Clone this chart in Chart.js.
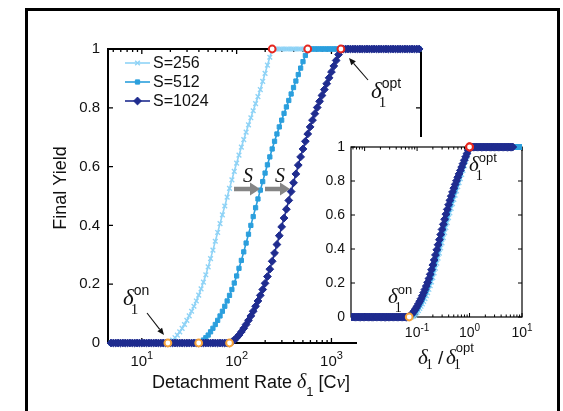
<!DOCTYPE html>
<html><head><meta charset="utf-8">
<script src="https://cdn.jsdelivr.net/npm/chart.js@4"></script>
<style>
html,body{margin:0;padding:0;background:#fff;width:563px;height:411px;overflow:hidden;}
#frame{position:absolute;left:25px;top:8px;width:529px;height:420px;border:3px solid #000;}
#main{position:absolute;left:0;top:0;}
#inset{position:absolute;left:300px;top:130px;}
</style></head><body>
<div id="frame"></div>
<canvas id="main" width="563" height="411"></canvas>
<canvas id="inset" width="255" height="270"></canvas>
<script>
// ---------------- data ----------------
const delta = [4.732, 5.012, 5.309, 5.623, 5.957, 6.310, 6.683, 7.079, 7.499, 7.943, 8.414, 8.913, 9.441,
  10, 10.59, 11.22, 11.89, 12.59, 13.34, 14.13, 14.96, 15.85, 16.79, 17.78, 18.84, 19.95, 21.13, 22.39, 23.71,
  25.12, 26.61, 28.18, 29.85, 31.62, 33.50, 35.48, 37.58, 39.81, 42.17, 44.67, 47.32, 50.12, 53.09, 56.23,
  59.57, 63.10, 66.83, 70.79, 74.99, 79.43, 84.14, 89.13, 94.41,
  100, 105.9, 112.2, 118.9, 125.9, 133.4, 141.3, 149.6, 158.5, 167.9, 177.8, 188.4, 199.5, 211.3, 223.9,
  237.1, 251.2, 266.1, 281.8, 298.5, 316.2, 335.0, 354.8, 375.8, 398.1, 421.7, 446.7, 473.2, 501.2, 530.9,
  562.3, 595.7, 631.0, 668.3, 707.9, 749.9, 794.3, 841.4, 891.3, 944.1,
  1000, 1059, 1122, 1189, 1259, 1334, 1413, 1496, 1585, 1679, 1778, 1884, 1995, 2113, 2239, 2371, 2512,
  2661, 2818, 2985, 3162, 3350, 3548, 3758, 3981, 4217, 4467, 4732, 5012, 5309, 5623, 5957, 6310, 6683,
  7079, 7499, 7943, 8414];

const yieldS256 = [0,0,0,0,0,0,0,0,0,0,0,0,0,0,0,0,0,0,0,0,0,0,0,0,
  0.000, 0.004, 0.010, 0.018, 0.027, 0.038, 0.050, 0.063, 0.077, 0.092, 0.108, 0.125, 0.143, 0.163, 0.184,
  0.207, 0.232, 0.259, 0.287, 0.316, 0.346, 0.376, 0.406, 0.436, 0.466, 0.496, 0.526, 0.555, 0.584, 0.612,
  0.639, 0.666, 0.692, 0.717, 0.742, 0.766, 0.790, 0.814, 0.838, 0.862, 0.890, 0.917, 0.945, 0.972, 1.000,
  1,1,1,1,1,1,1,1,1,1,1,1,1,1,1,1,1,1,1,1,1,1,1,1,1,1,1,1,1,1,1,1,1,1,1,1,1,1,1,1,1,1,1,1,1,1,1,1,1,1,
  1,1,1,1,1,1,1,1,1,1,1,1];

const yieldS512 = [0,0,0,0,0,0,0,0,0,0,0,0,0,0,0,0,0,0,0,0,0,0,0,0,0,0,0,0,0,0,0,0,0,0,0,0,0,
  0.000, 0.004, 0.010, 0.018, 0.027, 0.038, 0.050, 0.063, 0.077, 0.092, 0.108, 0.125, 0.143, 0.162, 0.182,
  0.204, 0.228, 0.254, 0.281, 0.310, 0.340, 0.370, 0.400, 0.430, 0.460, 0.490, 0.520, 0.549, 0.578, 0.606,
  0.633, 0.660, 0.686, 0.711, 0.735, 0.758, 0.781, 0.803, 0.825, 0.847, 0.869, 0.891, 0.913, 0.935, 0.957,
  0.978, 1.000,
  1,1,1,1,1,1,1,1,1,1,1,1,1,1,1,1,1,1,1,1,1,1,1,1,1,1,1,1,1,1,1,1,1,1,1,1,1,1,1,1,1,1,1,1,1,1,1];

const yieldS1024 = [0,0,0,0,0,0,0,0,0,0,0,0,0,0,0,0,0,0,0,0,0,0,0,0,0,0,0,0,0,0,0,0,0,0,0,0,0,0,0,0,
  0,0,0,0,0,0,0,0,0,0,
  0.000, 0.004, 0.010, 0.018, 0.027, 0.038, 0.050, 0.063, 0.077, 0.092, 0.108, 0.125, 0.143, 0.162, 0.182,
  0.203, 0.226, 0.251, 0.278, 0.306, 0.335, 0.365, 0.395, 0.425, 0.455, 0.485, 0.515, 0.545, 0.575, 0.605,
  0.633, 0.660, 0.686, 0.711, 0.735, 0.758, 0.780, 0.801, 0.822, 0.842, 0.862, 0.882, 0.902, 0.922, 0.942,
  0.961, 0.981, 1.000,
  1,1,1,1,1,1,1,1,1,1,1,1,1,1,1,1,1,1,1,1,1,1,1,1,1,1,1,1,1,1,1,1,1];

const seriesNames = ['S=256', 'S=512', 'S=1024'];
const onsetDelta = [18.84, 39.81, 84.14];   // δ1^on  (yield leaves 0)
const optDelta = [237.1, 562.3, 1259];      // δ1^opt (yield reaches 1)
const yTickStep = 0.2;
const mainXTicks = [10, 100, 1000];
const mainXExps = ['1', '2', '3'];
const insetXTicks = [0.1, 1, 10];
const insetXExps = ['-1', '0', '1'];

// ---------------- styles ----------------
const SANS = '"Liberation Sans", Arial, Helvetica, sans-serif';
const SERIF = '"Liberation Serif", "DejaVu Serif", "Times New Roman", serif';
const ySeries = [yieldS256, yieldS512, yieldS1024];
const styles = [
  {color: '#8fd3f6', point: 'crossRot', r: 3.3, pbw: 1.4, order: 4},
  {color: '#2b9fdd', point: 'rect', r: 3.0, pbw: 1, order: 3},
  {color: '#1f2c8f', point: 'rectRot', r: 3.9, pbw: 1, order: 2}
];
const ORANGE = '#f5a23a', RED = '#e5271f';

function seriesDS(i, norm, clip) {
  const s = styles[i];
  return {
    label: seriesNames[i],
    data: delta.map((d, k) => ({x: norm ? d / optDelta[i] : d, y: ySeries[i][k]})),
    borderColor: s.color, backgroundColor: s.color, borderWidth: 1.6,
    pointStyle: s.point, pointRadius: s.r, pointBorderWidth: s.pbw,
    pointBackgroundColor: s.color, pointBorderColor: s.color,
    tension: 0, order: s.order, clip: clip
  };
}
function markDS(points, color, order, clip) {
  return {
    data: points, showLine: false, pointStyle: 'circle', pointRadius: 3.4,
    pointBorderWidth: 2, pointBorderColor: color, pointBackgroundColor: '#fff',
    borderColor: color, backgroundColor: '#fff', order: order, clip: clip
  };
}

// ---------------- drawing helpers ----------------
function boxPlugin(cfg) {
  return {
    id: 'box' + cfg.name,
    beforeDraw(chart) {
      if (!cfg.white) return;
      const c = chart.ctx;
      c.save(); c.fillStyle = '#fff';
      c.fillRect(cfg.white[0], cfg.white[1], chart.width - cfg.white[0], chart.height - cfg.white[1]);
      c.restore();
    },
    beforeDatasetsDraw(chart) {
      const {ctx, chartArea: a, scales: {x, y}} = chart;
      ctx.save();
      ctx.strokeStyle = '#000'; ctx.lineWidth = cfg.lw;
      ctx.strokeRect(a.left, a.top, a.right - a.left, a.bottom - a.top);
      ctx.lineWidth = cfg.tlw;
      ctx.beginPath();
      for (let v = 0; v <= 1.0001; v += yTickStep) {
        const py = y.getPixelForValue(v);
        ctx.moveTo(a.left, py); ctx.lineTo(a.left + cfg.major, py);
        ctx.moveTo(a.right, py); ctx.lineTo(a.right - cfg.major, py);
      }
      const lo = Math.floor(Math.log10(x.min)), hi = Math.ceil(Math.log10(x.max));
      for (let e = lo; e <= hi; e++) for (let k = 1; k <= 9; k++) {
        const v = k * Math.pow(10, e);
        if (v < x.min || v > x.max) continue;
        const px = x.getPixelForValue(v);
        const L = k === 1 ? cfg.major : cfg.minor;
        ctx.moveTo(px, a.bottom); ctx.lineTo(px, a.bottom - L);
        ctx.moveTo(px, a.top); ctx.lineTo(px, a.top + L);
      }
      ctx.stroke(); ctx.restore();
    }
  };
}

function powLabels(chart, values, exps, baseY, bs, es, raise) {
  const {ctx, scales: {x}} = chart;
  ctx.save(); ctx.fillStyle = '#111'; ctx.textBaseline = 'alphabetic'; ctx.textAlign = 'left';
  values.forEach((v, i) => {
    const px = x.getPixelForValue(v);
    ctx.font = bs + 'px ' + SANS; const wb = ctx.measureText('10').width;
    ctx.font = es + 'px ' + SANS; const we = ctx.measureText(exps[i]).width;
    const x0 = px - (wb + we) / 2;
    ctx.font = bs + 'px ' + SANS; ctx.fillText('10', x0, baseY);
    ctx.font = es + 'px ' + SANS; ctx.fillText(exps[i], x0 + wb, baseY - raise);
  });
  ctx.restore();
}

function deltaSym(ctx, x, y, sup, o) {
  ctx.save(); ctx.fillStyle = '#111'; ctx.textBaseline = 'alphabetic'; ctx.textAlign = 'left';
  ctx.font = 'italic ' + o.sz + 'px ' + SERIF;
  ctx.fillText('δ', x, y);
  const w = ctx.measureText('δ').width;
  ctx.font = o.sub + 'px ' + SERIF;
  ctx.fillText('1', x + w + o.subDx, y + o.subDy);
  if (sup) {
    ctx.font = o.sup + 'px ' + SANS;
    ctx.fillText(sup, x + w + o.supDx, y + o.supDy);
  }
  ctx.restore();
  return w;
}

function thinArrow(ctx, x1, y1, x2, y2) {
  const ang = Math.atan2(y2 - y1, x2 - x1), hl = 7, hw = 3;
  ctx.save(); ctx.strokeStyle = '#111'; ctx.fillStyle = '#111'; ctx.lineWidth = 1.1;
  ctx.beginPath(); ctx.moveTo(x1, y1);
  ctx.lineTo(x2 - hl * Math.cos(ang), y2 - hl * Math.sin(ang)); ctx.stroke();
  ctx.beginPath(); ctx.moveTo(x2, y2);
  ctx.lineTo(x2 - hl * Math.cos(ang) + hw * Math.sin(ang), y2 - hl * Math.sin(ang) - hw * Math.cos(ang));
  ctx.lineTo(x2 - hl * Math.cos(ang) - hw * Math.sin(ang), y2 - hl * Math.sin(ang) + hw * Math.cos(ang));
  ctx.closePath(); ctx.fill(); ctx.restore();
}

function fatArrow(ctx, x1, x2, y) {
  const hl = 10, hh = 6.5, sh = 2.3;
  ctx.save(); ctx.fillStyle = '#858585';
  ctx.beginPath();
  ctx.moveTo(x1, y - sh); ctx.lineTo(x2 - hl, y - sh); ctx.lineTo(x2 - hl, y - hh);
  ctx.lineTo(x2, y); ctx.lineTo(x2 - hl, y + hh); ctx.lineTo(x2 - hl, y + sh); ctx.lineTo(x1, y + sh);
  ctx.closePath(); ctx.fill(); ctx.restore();
}

const mainAnnot = {
  id: 'mainAnnot',
  afterDatasetsDraw(chart) {
    const ctx = chart.ctx;
    powLabels(chart, mainXTicks, mainXExps, 366, 15, 11, 7);
    // legend
    ctx.save();
    [63, 82, 101].forEach((ry, i) => {
      const s = styles[i];
      ctx.strokeStyle = s.color; ctx.fillStyle = s.color; ctx.lineWidth = 1.6;
      ctx.beginPath(); ctx.moveTo(125, ry); ctx.lineTo(150, ry); ctx.stroke();
      ctx.lineWidth = s.pbw;
      Chart.helpers.drawPoint(ctx, {pointStyle: s.point, radius: s.r, rotation: 0, borderWidth: s.pbw}, 137.5, ry);
      ctx.fillStyle = '#111'; ctx.font = '16px ' + SANS; ctx.textBaseline = 'middle'; ctx.textAlign = 'left';
      ctx.fillText(seriesNames[i], 153, ry + 1);
    });
    // axis titles
    ctx.fillStyle = '#111'; ctx.textBaseline = 'alphabetic';
    ctx.save(); ctx.translate(66, 188); ctx.rotate(-Math.PI / 2);
    ctx.font = '18px ' + SANS; ctx.textAlign = 'center'; ctx.fillText('Final Yield', 0, 0);
    ctx.restore();
    // x title pieces
    const pieces = [
      {t: 'Detachment Rate ', f: '18px ' + SANS, dy: 0},
      {t: 'δ', f: 'italic 20px ' + SERIF, dy: 0},
      {t: '1', f: '13px ' + SANS, dy: 8},
      {t: ' [C', f: '18px ' + SANS, dy: 0},
      {t: 'ν', f: 'italic 19px ' + SERIF, dy: 0},
      {t: ']', f: '18px ' + SANS, dy: 0}
    ];
    let tw = 0;
    pieces.forEach(p => { ctx.font = p.f; p.w = ctx.measureText(p.t).width; tw += p.w; });
    let xx = 251 - tw / 2;
    ctx.textAlign = 'left';
    pieces.forEach(p => { ctx.font = p.f; ctx.fillText(p.t, xx, 388 + p.dy); xx += p.w; });
    ctx.restore();
    // δ1 annotations
    const o = {sz: 23, sub: 15, subDx: -3, subDy: 9, sup: 14, supDx: 0, supDy: -10};
    deltaSym(ctx, 123, 305, 'on', o);
    thinArrow(ctx, 147, 313, 164, 335);
    deltaSym(ctx, 371, 98, 'opt', o);
    thinArrow(ctx, 368, 80, 349, 58);
    // S shift arrows
    fatArrow(ctx, 234, 260, 189);
    fatArrow(ctx, 265, 290, 189);
    ctx.save(); ctx.fillStyle = '#111'; ctx.font = 'italic 20px ' + SERIF;
    ctx.textAlign = 'center'; ctx.textBaseline = 'alphabetic';
    ctx.fillText('S', 248, 182); ctx.fillText('S', 280, 182);
    ctx.restore();
  }
};

const insetAnnot = {
  id: 'insetAnnot',
  afterDatasetsDraw(chart) {
    const ctx = chart.ctx;
    // inset canvas origin = page (300,130)
    powLabels(chart, insetXTicks, insetXExps, 337 - 130, 14, 10, 6);
    const o = {sz: 21, sub: 14, subDx: -3, subDy: 9, sup: 13, supDx: 0, supDy: -9};
    deltaSym(ctx, 469 - 300, 171 - 130, 'opt', o);
    deltaSym(ctx, 388 - 300, 303 - 130, 'on', o);
    // x title δ1 / δ1^opt
    const t = {sz: 21, sub: 14, subDx: -2, subDy: 5, sup: 13, supDx: 0, supDy: -12};
    deltaSym(ctx, 418 - 300, 364 - 130, null, t);
    ctx.save(); ctx.fillStyle = '#111'; ctx.font = '19px ' + SANS; ctx.textBaseline = 'alphabetic';
    ctx.fillText('/', 438 - 300, 364 - 130); ctx.restore();
    deltaSym(ctx, 446 - 300, 364 - 130, 'opt', t);
  }
};

// ---------------- charts ----------------
const commonY = (w, fs, pad) => ({
  min: 0, max: 1,
  grid: {display: false, drawTicks: false}, border: {display: false},
  ticks: {stepSize: yTickStep, padding: pad, color: '#111', font: {size: fs, family: SANS},
          callback: v => String(Number(v.toFixed(1)))},
  afterFit(s) { s.width = w; }
});

const mainClip = {left: 3, top: 6, right: 3, bottom: 6};
new Chart(document.getElementById('main'), {
  type: 'line',
  data: {datasets: [
    seriesDS(0, false, mainClip), seriesDS(1, false, mainClip), seriesDS(2, false, mainClip),
    markDS(onsetDelta.map(d => ({x: d, y: 0})), ORANGE, 1, mainClip),
    markDS(optDelta.map(d => ({x: d, y: 1})), RED, 0, mainClip)
  ]},
  options: {
    responsive: false, animation: false, devicePixelRatio: 1,
    layout: {padding: {left: 0, top: 49, right: 142, bottom: 0}},
    plugins: {legend: {display: false}, tooltip: {enabled: false}},
    scales: {
      x: {type: 'logarithmic', min: 4.4, max: 8800,
          grid: {display: false, drawTicks: false}, border: {display: false},
          ticks: {display: false}, afterFit(s) { s.height = 68; }},
      y: commonY(108, 15, 8)
    }
  },
  plugins: [boxPlugin({name: 'main', lw: 2, tlw: 1.3, major: 5, minor: 3}), mainAnnot]
});

const insetClip = {left: 0, top: 6, right: 0, bottom: 6};
new Chart(document.getElementById('inset'), {
  type: 'line',
  data: {datasets: [
    seriesDS(0, true, insetClip), seriesDS(1, true, insetClip), seriesDS(2, true, insetClip),
    markDS([{x: onsetDelta[1] / optDelta[1], y: 0}], ORANGE, 1, insetClip),
    markDS(optDelta.map(d => ({x: d / d, y: 1})), RED, 0, insetClip)
  ]},
  options: {
    responsive: false, animation: false, devicePixelRatio: 1,
    layout: {padding: {left: 0, top: 17, right: 33, bottom: 0}},
    plugins: {legend: {display: false}, tooltip: {enabled: false}},
    scales: {
      x: {type: 'logarithmic', min: 0.0055, max: 10,
          grid: {display: false, drawTicks: false}, border: {display: false},
          ticks: {display: false}, afterFit(s) { s.height = 83; }},
      y: commonY(51, 14, 6)
    }
  },
  plugins: [boxPlugin({name: 'inset', lw: 1.2, tlw: 1, major: 4, minor: 2.5, white: [57, 7]}), insetAnnot]
});
</script>
</body></html>
